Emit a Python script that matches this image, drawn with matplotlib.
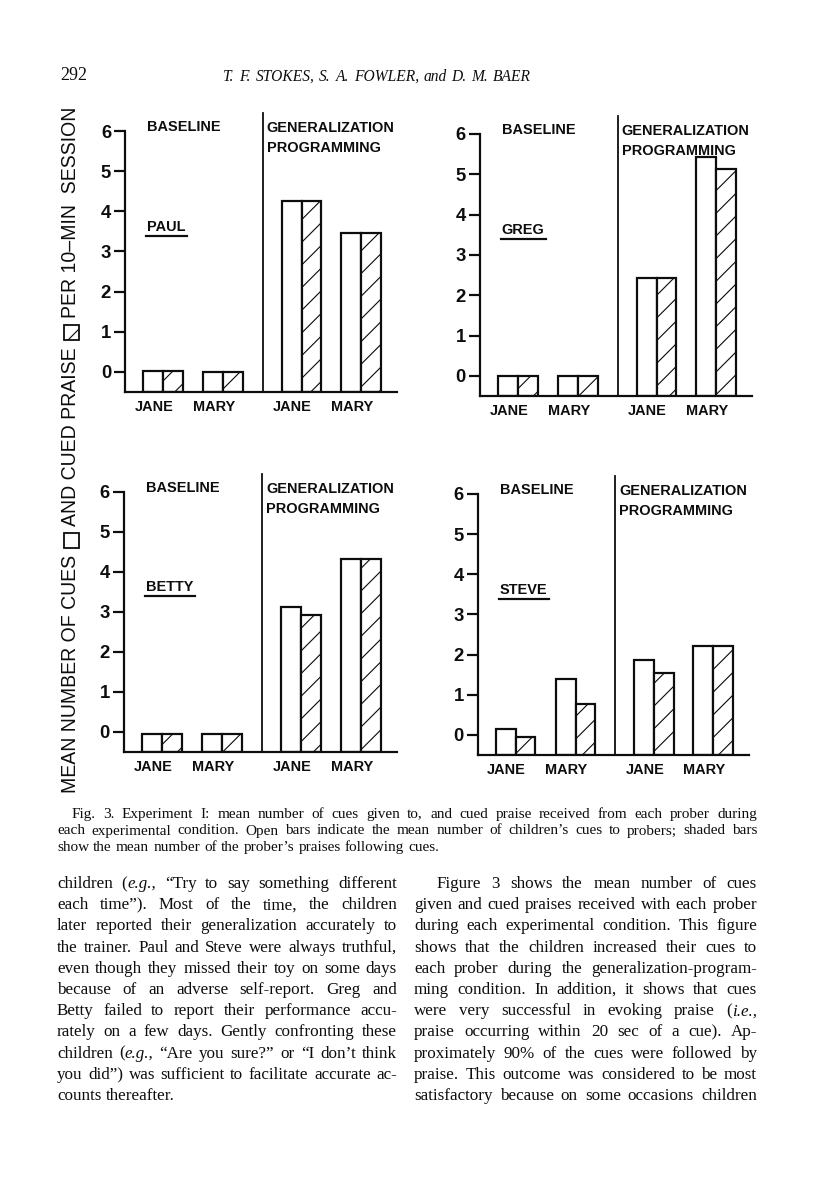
import numpy as np
import matplotlib
matplotlib.use("Agg")
import matplotlib.pyplot as plt
from matplotlib.patches import Rectangle

W, H, DPI = 816, 1195, 136

# values (mean number per 10-min session)
children = ["PAUL", "GREG", "BETTY", "STEVE"]
probers = ["JANE", "MARY", "JANE", "MARY"]
paul_cues = [0.02, 0.0, 4.25, 3.45]
paul_praise = [0.02, 0.0, 4.25, 3.45]
greg_cues = [0.0, 0.0, 2.42, 5.42]
greg_praise = [0.0, 0.0, 2.42, 5.12]
betty_cues = [-0.05, -0.05, 3.12, 4.33]
betty_praise = [-0.05, -0.05, 2.93, 4.33]
steve_cues = [0.15, 1.40, 1.87, 2.22]
steve_praise = [-0.05, 0.78, 1.55, 2.22]
yticks = [0, 1, 2, 3, 4, 5, 6]

page_no = "292"
authors = "*T.* *F.* *STOKES,* *S.* *A.* *FOWLER,* *and* *D.* *M.* *BAER*"
caption = [
    "Fig. 3. Experiment I: mean number of cues given to, and cued praise received from each prober during",
    "each experimental condition. Open bars indicate the mean number of children\u2019s cues to probers; shaded bars",
    "show the mean number of the prober\u2019s praises following cues.",
]
left_col = [
    "children (|*e.g.,* \u201cTry to say something different",
    "each time\u201d). Most of the time, the children",
    "later reported their generalization accurately to",
    "the trainer. Paul and Steve were always truthful,",
    "even though they missed their toy on some days",
    "because of an adverse self-report. Greg and",
    "Betty failed to report their performance accu-",
    "rately on a few days. Gently confronting these",
    "children (|*e.g.,* \u201cAre you sure?\u201d or \u201cI don\u2019t think",
    "you did\u201d) was sufficient to facilitate accurate ac-",
    "counts thereafter.",
]
right_col = [
    "Figure 3 shows the mean number of cues",
    "given and cued praises received with each prober",
    "during each experimental condition. This figure",
    "shows that the children increased their cues to",
    "each prober during the generalization-program-",
    "ming condition. In addition, it shows that cues",
    "were very successful in evoking praise (|*i.e.,*",
    "praise occurring within 20 sec of a cue). Ap-",
    "proximately 90% of the cues were followed by",
    "praise. This outcome was considered to be most",
    "satisfactory because on some occasions children",
]
ylabel_parts = ["MEAN NUMBER OF CUES", "AND CUED PRAISE", "PER 10\u2013MIN  SESSION"]

INK = "#0d0d0d"
SANS = ["Liberation Sans", "DejaVu Sans"]
SERIF = ["Liberation Serif", "DejaVu Serif"]

plt.rcParams["hatch.linewidth"] = 0.6


def pt(px):
    return px * 72.0 / DPI


def fx(x):
    return x / W


def fy(y):
    return 1 - y / H


fig = plt.figure(figsize=(W / DPI, H / DPI), dpi=DPI)
fig.patch.set_facecolor("white")
renderer = fig.canvas.get_renderer()

# ---- the four panels ----
panels = [
    (children[0], paul_cues, paul_praise, (125, 131, 397, 392)),
    (children[1], greg_cues, greg_praise, (480, 134, 752, 396)),
    (children[2], betty_cues, betty_praise, (124, 492, 397, 752)),
    (children[3], steve_cues, steve_praise, (478, 494, 749, 755)),
]
xpos = np.array([0, 1, 2.31, 3.3])
bw = 0.33
divider = 1.66
lab = dict(fontsize=pt(14.5), family=SANS, fontweight="bold", color=INK)

for name, cues, praise, (l, t, r, b) in panels:
    ax = fig.add_axes([fx(l), fy(b), (r - l) / W, (b - t) / H])
    ax.set_facecolor("none")
    ax.bar(xpos - bw / 2, np.array(cues) + 0.5, width=bw, bottom=-0.5,
           facecolor="white", edgecolor=INK, linewidth=pt(2.2))
    ax.bar(xpos + bw / 2, np.array(praise) + 0.5, width=bw, bottom=-0.5,
           facecolor="white", edgecolor=INK, linewidth=pt(2.2), hatch="//")
    ax.set_xlim(-0.63, 3.9)
    ax.set_ylim(-0.5, 6)
    for s in ["top", "right"]:
        ax.spines[s].set_visible(False)
    for s in ["left", "bottom"]:
        ax.spines[s].set_linewidth(pt(2.2))
        ax.spines[s].set_color(INK)
    ax.set_yticks(yticks)
    ax.set_yticklabels([str(v) for v in yticks], fontsize=pt(18.5),
                       fontweight="bold", family=SANS, color=INK)
    ax.tick_params(axis="y", length=pt(11), width=pt(2.2), pad=pt(3), color=INK)
    ax.set_xticks(xpos - 0.15)
    ax.set_xticklabels(probers, **lab)
    ax.tick_params(axis="x", length=0, pad=pt(8))
    ax.plot([divider, divider], [-0.5, 6.45], color=INK, lw=pt(1.8), clip_on=False)

    ax.text(-0.27, 6.1, "BASELINE", ha="left", va="center", **lab)
    ax.text(divider + 0.07, 6.08, "GENERALIZATION", ha="left", va="center", **lab)
    ax.text(divider + 0.07, 5.58, "PROGRAMMING", ha="left", va="center", **lab)
    nt = ax.text(-0.27, 3.62, name, ha="left", va="center", **lab)
    ext = nt.get_window_extent(renderer)
    x0 = ax.transData.inverted().transform((ext.x0 - 1, 0))[0]
    x1 = ax.transData.inverted().transform((ext.x1 + 2, 0))[0]
    ax.plot([x0, x1], [3.39, 3.39], color=INK, lw=pt(2.2))

# ---- rotated y label with the two legend boxes, fitted to 108..793 px ----
ytexts = [fig.text(fx(71), 0, s, rotation=90, ha="center", va="bottom",
                   fontsize=pt(19), family=SANS, color=INK) for s in ylabel_parts]
side, gap = 15, 7
avail = (793 - 108) - 2 * side - 4 * gap
natural = sum(tt.get_window_extent(renderer).height for tt in ytexts)
for tt in ytexts:
    tt.set_fontsize(pt(19) * avail / natural)


def vbox(ybot, hatch):
    rect = Rectangle((fx(71 - side / 2), fy(ybot)), side / W, side / H,
                     transform=fig.transFigure, facecolor="white",
                     edgecolor=INK, lw=pt(1.8), hatch=hatch)
    fig.add_artist(rect)
    return ybot - side


y = 793
for i, tt in enumerate(ytexts):
    tt.set_y(fy(y))
    y -= tt.get_window_extent(renderer).height
    if i < 2:
        y = vbox(y - gap, None if i == 0 else "/") - gap


# ---- page text ----
def draw_line(line, x0, x1, ybase, size_px, justify):
    groups = []
    for word in line.split(" "):
        arts = []
        width = 0
        for seg in word.split("|"):
            if not seg:
                continue
            it = len(seg) > 1 and seg.startswith("*") and seg.endswith("*")
            s = seg.strip("*") if it else seg
            tt = fig.text(0, fy(ybase), s, fontsize=pt(size_px), family=SERIF,
                          style="italic" if it else "normal",
                          ha="left", va="baseline", color=INK)
            wd = tt.get_window_extent(renderer).width
            arts.append((tt, width))
            width += wd
        groups.append((arts, width))
    total = sum(g[1] for g in groups)
    if justify and len(groups) > 1:
        gap_w = (x1 - x0 - total) / (len(groups) - 1)
    else:
        gap_w = 0.27 * size_px
    x = x0
    for arts, width in groups:
        for tt, off in arts:
            tt.set_x(fx(x + off))
        x += width + gap_w


fig.text(fx(60), fy(80), page_no, fontsize=pt(18), family=SERIF, color=INK,
         ha="left", va="baseline")
draw_line(authors, 223, 531, 81, 15.5, True)

for i, line in enumerate(caption):
    x0 = 72 if i == 0 else 57
    draw_line(line, x0, 757, 818 + 16.5 * i, 15.3, i < len(caption) - 1)

for i, line in enumerate(left_col):
    draw_line(line, 57, 397, 888 + 21.2 * i, 17, i < len(left_col) - 1)

for i, line in enumerate(right_col):
    x0 = 437 if i == 0 else 414
    draw_line(line, x0, 757, 888 + 21.2 * i, 17, True)

fig.savefig("out.png", dpi=DPI, facecolor="white")
